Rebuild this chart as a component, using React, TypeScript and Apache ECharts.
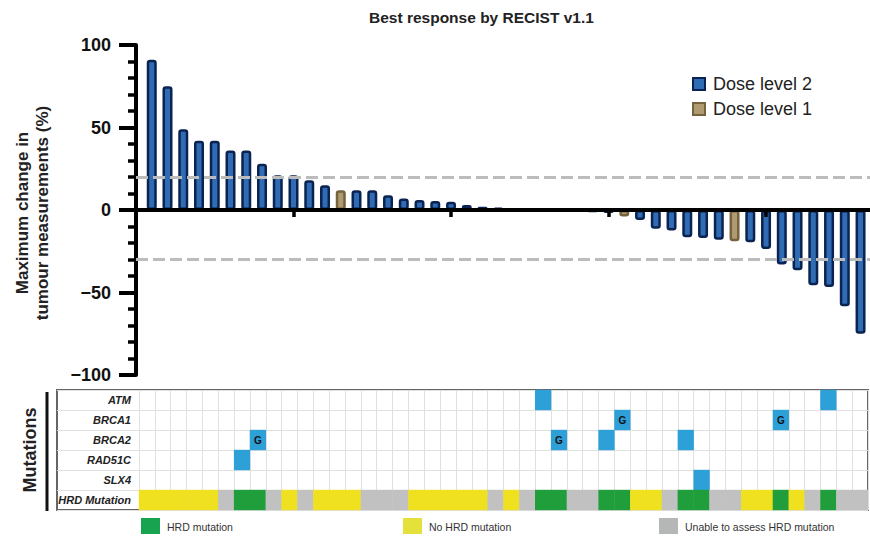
import React, { useEffect, useRef } from "react";
import * as echarts from "echarts";

const FONT = "'Liberation Sans', Arial, Helvetica, sans-serif";

// Waterfall data: best % change per patient (sorted), dose level per patient
const bestChange = [
  91, 75, 49, 42, 42, 36, 36, 28, 21, 21,
  18, 15, 12, 12, 12, 9, 7, 6, 5.5, 5,
  3, 2, 1.5, 0, 0, 0, 0, -0.5, -1.2, -1.8,
  -4, -6, -11.4, -12.4, -16.5, -17, -18, -19, -19.5, -23.7,
  -33, -36.5, -45.6, -46.7, -58.3, -75,
];
const doseLevel = [
  2, 2, 2, 2, 2, 2, 2, 2, 2, 2,
  2, 2, 1, 2, 2, 2, 2, 2, 2, 2,
  2, 2, 2, 2, 2, 2, 2, 2, 2, 2,
  1, 2, 2, 2, 2, 2, 2, 1, 2, 2,
  2, 2, 2, 2, 2, 2,
];
const xTickPatients = [9, 19, 29, 39];
const yTicks = [-100, -50, 0, 50, 100];
const thresholds = [20, -30];

// Mutation panel
const genes = ["ATM", "BRCA1", "BRCA2", "RAD51C", "SLX4", "HRD Mutation"];
const mutationGene = ["ATM", "ATM", "BRCA1", "BRCA1", "BRCA2", "BRCA2", "BRCA2", "BRCA2", "RAD51C", "SLX4"];
const mutationPatient = [25, 43, 30, 40, 7, 26, 29, 34, 6, 35];
const mutationGermline = [0, 0, 1, 1, 1, 1, 0, 0, 0, 0];
// H = HRD mutation, N = no HRD mutation, U = unable to assess
const hrdStatus = [
  "N", "N", "N", "N", "N", "U", "H", "H", "U", "N",
  "U", "N", "N", "N", "U", "U", "U", "N", "N", "N",
  "N", "N", "U", "N", "U", "H", "H", "U", "U", "H",
  "H", "N", "N", "U", "H", "H", "U", "U", "N", "N",
  "H", "N", "U", "H", "U", "U",
];
const hrdLegend = ["HRD mutation", "No HRD mutation", "Unable to assess HRD mutation"];

const BLUE = "#2f6cb4";
const BLUE_BORDER = "#0b2351";
const TAN = "#b09a72";
const TAN_BORDER = "#75623f";
const MUT_BLUE = "#2ea0d8";
const HRD_COLORS: Record<string, string> = { H: "#1f9e3b", N: "#efe11f", U: "#c1c1c1" };
const LEGEND_COLORS = ["#17a34f", "#e4e13b", "#b5b7b7"];

export default function App() {
  const ref = useRef<HTMLDivElement>(null);
  useEffect(() => {
    if (!ref.current) return;
    const chart = echarts.init(ref.current, null, { renderer: "svg" });
    const patientCats = bestChange.map((_, i) => String(i + 1));

    const dose2 = bestChange.map((v, i) => [i, v]).filter((_, i) => doseLevel[i] === 2);
    const dose1 = bestChange.map((v, i) => [i, v]).filter((_, i) => doseLevel[i] === 1);

    const cellColors = [MUT_BLUE, HRD_COLORS.H, HRD_COLORS.N, HRD_COLORS.U];
    const codeIdx: Record<string, number> = { H: 1, N: 2, U: 3 };
    const cells: number[][] = [];
    mutationGene.forEach((g, k) => {
      cells.push([mutationPatient[k], genes.indexOf(g), 0, mutationGermline[k]]);
    });
    hrdStatus.forEach((s, i) => cells.push([i, 5, codeIdx[s], 0]));

    const legendX = [141, 403, 659];
    const graphics: any[] = [
      {
        type: "text",
        x: 32,
        y: 213,
        rotation: Math.PI / 2,
        style: {
          text: "Maximum change in\ntumour measurements (%)",
          textAlign: "center",
          textVerticalAlign: "middle",
          fontSize: 17,
          fontWeight: "bold",
          fontFamily: FONT,
          lineHeight: 20,
          fill: "#222",
        },
      },
      {
        type: "text",
        x: 30,
        y: 450,
        rotation: Math.PI / 2,
        style: {
          text: "Mutations",
          textAlign: "center",
          textVerticalAlign: "middle",
          fontSize: 18,
          fontWeight: "bold",
          fontFamily: FONT,
          fill: "#222",
        },
      },
      {
        type: "line",
        shape: { x1: 47, y1: 392, x2: 47, y2: 511 },
        style: { stroke: "#111", lineWidth: 3 },
      },
    ];
    hrdLegend.forEach((t, k) => {
      graphics.push({
        type: "rect",
        shape: { x: legendX[k], y: 518, width: 19, height: 16 },
        style: { fill: LEGEND_COLORS[k] },
      });
      graphics.push({
        type: "text",
        x: legendX[k] + 26,
        y: 527,
        style: {
          text: t,
          textVerticalAlign: "middle",
          fontSize: 10.5,
          fontFamily: FONT,
          fill: "#333",
        },
      });
    });

    const barItem = (color: string, border: string) => ({
      color,
      borderColor: border,
      borderWidth: 2.5,
      borderRadius: 2,
    });

    chart.setOption({
      animation: false,
      textStyle: { fontFamily: FONT },
      title: {
        text: "Best response by RECIST v1.1",
        left: 369,
        top: 9,
        padding: 0,
        textStyle: { fontSize: 15.5, fontWeight: "bold", color: "#222", fontFamily: FONT },
      },
      legend: {
        data: ["Dose level 2", "Dose level 1"],
        orient: "vertical",
        left: 692,
        top: 75,
        padding: 0,
        icon: "rect",
        itemWidth: 12,
        itemHeight: 12,
        itemGap: 7,
        textStyle: { fontSize: 18, color: "#222", fontFamily: FONT, lineHeight: 18, padding: [0, 0, 0, 3] },
      },
      graphic: graphics,
      grid: [
        { left: 136, top: 45, width: 736.6, height: 330 },
        { left: 139, top: 390, right: 2, height: 120 },
        { left: 57, top: 390, right: 2, height: 120, show: true, borderColor: "#666", borderWidth: 2, backgroundColor: "transparent" },
      ],
      xAxis: [
        {
          type: "value",
          gridIndex: 0,
          min: -1,
          max: 45.6,
          interval: 10,
          z: 3,
          axisLine: { onZero: true, lineStyle: { color: "#000", width: 4 } },
          axisTick: { show: true, length: 7, customValues: xTickPatients, lineStyle: { color: "#000", width: 3.5 } },
          axisLabel: { show: false, customValues: xTickPatients },
          splitLine: { show: false },
        },
        {
          type: "category",
          gridIndex: 1,
          data: patientCats,
          axisLine: { show: false },
          axisTick: { show: false },
          axisLabel: { show: false },
          splitLine: { show: true, interval: 0, lineStyle: { color: "#e0e0e0", width: 1 } },
        },
        { type: "value", gridIndex: 2, min: 0, max: 1, show: false },
      ],
      yAxis: [
        {
          type: "value",
          gridIndex: 0,
          min: -100,
          max: 100,
          interval: 50,
          z: 3,
          axisLine: { show: true, onZero: false, lineStyle: { color: "#000", width: 4 } },
          axisTick: { show: true, length: 17, lineStyle: { color: "#000", width: 4 } },
          minorTick: { show: true, splitNumber: 5, length: 8, lineStyle: { color: "#000", width: 3.5 } },
          splitLine: { show: false },
          axisLabel: {
            margin: 25,
            fontSize: 18,
            fontWeight: "bold",
            color: "#111",
            fontFamily: FONT,
            customValues: yTicks,
            formatter: (v: number) => (v < 0 ? "\u2212" + Math.abs(v) : String(v)),
          },
        },
        {
          type: "category",
          gridIndex: 1,
          data: genes,
          inverse: true,
          axisLine: { show: false },
          axisTick: { show: false },
          splitLine: { show: false },
          axisLabel: {
            margin: 8,
            fontSize: 11,
            fontWeight: "bold",
            fontStyle: "italic",
            color: "#222",
            fontFamily: FONT,
          },
        },
        {
          type: "category",
          gridIndex: 2,
          data: genes,
          inverse: true,
          axisLine: { show: false },
          axisTick: { show: false },
          axisLabel: { show: false },
          splitLine: { show: true, interval: 0, lineStyle: { color: "#e0e0e0", width: 1 } },
        },
      ],
      series: [
        {
          name: "Dose level 2",
          type: "bar",
          xAxisIndex: 0,
          yAxisIndex: 0,
          barWidth: 10,
          barGap: "-100%",
          data: dose2,
          itemStyle: barItem(BLUE, BLUE_BORDER),
          markLine: {
            silent: true,
            symbol: "none",
            label: { show: false },
            lineStyle: { color: "#bcbcbc", width: 3, type: [12, 5] },
            data: thresholds.map((t) => ({ yAxis: t })),
          },
        },
        {
          name: "Dose level 1",
          type: "bar",
          xAxisIndex: 0,
          yAxisIndex: 0,
          barWidth: 10,
          barGap: "-100%",
          data: dose1,
          itemStyle: barItem(TAN, TAN_BORDER),
        },
        {
          type: "custom",
          xAxisIndex: 1,
          yAxisIndex: 1,
          encode: { x: 0, y: 1 },
          data: cells,
          renderItem: (params: any, api: any) => {
            const col = api.value(0);
            const row = api.value(1);
            const kind = api.value(2);
            const g = api.value(3);
            const c = api.coord([col, row]);
            const s = api.size([1, 1]);
            const children: any[] = [
              {
                type: "rect",
                shape: { x: c[0] - s[0] / 2 - 0.2, y: c[1] - s[1] / 2 - 0.2, width: s[0] + 0.4, height: s[1] + 0.4 },
                style: { fill: cellColors[kind] },
              },
            ];
            if (g) {
              children.push({
                type: "text",
                style: {
                  text: "G",
                  x: c[0],
                  y: c[1],
                  textAlign: "center",
                  textVerticalAlign: "middle",
                  fontSize: 10,
                  fontWeight: "bold",
                  fontFamily: FONT,
                  fill: "#111",
                },
              });
            }
            return { type: "group", children };
          },
        },
      ],
    });
    return () => chart.dispose();
  }, []);
  return <div ref={ref} style={{ position: "absolute", left: 0, top: 0, width: 870, height: 536 }} />;
}
